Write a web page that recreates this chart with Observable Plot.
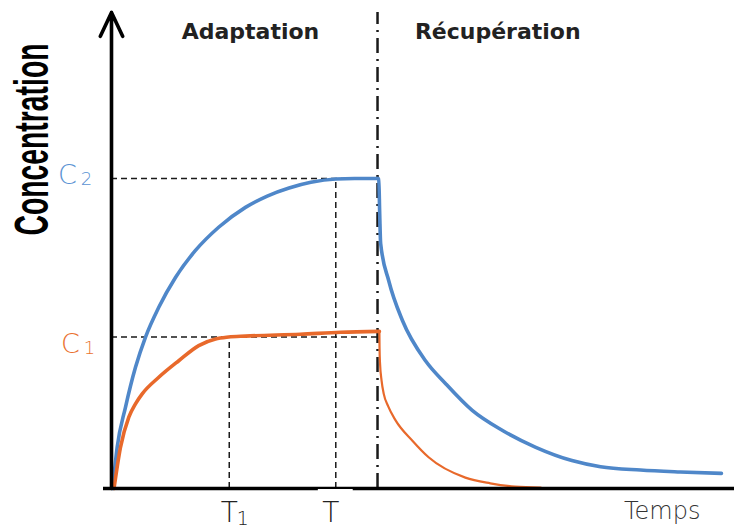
<!DOCTYPE html>
<html>
<head>
<meta charset="utf-8">
<script src="https://cdn.jsdelivr.net/npm/d3@7"></script>
<script src="https://cdn.jsdelivr.net/npm/@observablehq/plot@0.6"></script>
<style>
  html, body { margin: 0; padding: 0; background: #fff; }
  #chart svg { display: block; }
</style>
</head>
<body>
<div id="chart"></div>
<script>
// ---- Data (arbitrary units read from the schematic) ----
const blueAdaptT = [0.2, 0.91, 2.25, 3.85, 5.46, 7.59, 10.27, 13.48, 17.2, 21.5, 25.0, 28.5, 32.0, 36.0, 39.0, 42.7];
const blueAdaptC = [0, 8.7, 17.2, 25.6, 32.0, 38.3, 44.6, 50.3, 55.2, 59.4, 61.8, 63.5, 64.7, 65.4, 65.5, 65.5];
const blueRecovT = [42.7, 42.9, 43.05, 43.2, 44.5, 46.7, 50.4, 53.6, 57.9, 62.7, 68.1, 73.9, 78.5, 84.9, 91.3, 97.9];
const blueRecovC = [65.5, 65.4, 58.0, 51.8, 43.9, 35.5, 27.0, 22.2, 16.5, 12.3, 8.7, 5.9, 4.6, 3.9, 3.5, 3.2];
const orangeAdaptT = [0.4, 1.44, 2.78, 3.85, 4.93, 7.59, 10.8, 14.0, 16.7, 18.8, 21.5, 30.3, 36.8, 43.0];
const orangeAdaptC = [0, 8.7, 15.1, 17.9, 20.0, 23.5, 27.0, 30.2, 31.6, 32.0, 32.2, 32.6, 33.0, 33.2];
const orangeRecovT = [43.0, 43.02, 43.1, 43.35, 43.7, 44.4, 45.6, 48.3, 50.9, 56.8, 60.8, 64.8, 68.9];
const orangeRecovC = [33.2, 30.0, 26.5, 22.8, 20.0, 17.4, 14.4, 10.1, 6.6, 2.3, 1.1, 0.4, 0.2];

// Reference levels and times
const levelValues = [32.0, 65.5];          // C1, C2
const levelSubs = ["1", "2"];
const timeValues = [18.9, 36.0];           // T1, T
const timeSubs = ["1", ""];
const switchTime = 42.7;                   // end of adaptation
const axisTop = 100.6;
const phaseLabels = ["Adaptation", "Récupération"];
const phaseCenters = [22.3, 62.0];
const xLabel = "Temps";
const xLabelPos = 88.4;
const yLabel = "Concentration";

const BLUE = "#4f87c9";
const ORANGE = "#e8692b";
const BLUE_TXT = "#5b93d3";
const ORANGE_TXT = "#ea7230";
const INK = "#1a1a1a";

const zip = (ts, cs) => ts.map((t, i) => ({t, c: cs[i]}));
const blueA = zip(blueAdaptT, blueAdaptC);
const blueR = zip(blueRecovT, blueRecovC);
const orangeA = zip(orangeAdaptT, orangeAdaptC);
const orangeR = zip(orangeRecovT, orangeRecovC);

const thin = "'DejaVu Sans', sans-serif";
const levelColors = [ORANGE_TXT, BLUE_TXT];
// label offsets (C1 sits slightly below its line, C2 centred on it)
const levelStyle = [
  {cdx: -41, cdy: 7.5, sdx: -22, sdy: 11.5},
  {cdx: -44, cdy: -3, sdx: -25, sdy: 1}
];
const timeStyle = [{dx: 0}, {dx: -5}];

const levelMarks = levelValues.flatMap((v, i) => [
  Plot.text([v], {x: 0, y: d => d, text: () => "C", dx: levelStyle[i].cdx, dy: levelStyle[i].cdy, fill: levelColors[i], fontSize: 27, fontFamily: thin, fontWeight: 300, textAnchor: "middle"}),
  Plot.text([v], {x: 0, y: d => d, text: () => levelSubs[i], dx: levelStyle[i].sdx, dy: levelStyle[i].sdy, fill: levelColors[i], fontSize: 18, fontFamily: thin, fontWeight: 300, textAnchor: "middle"})
]);
const timeMarks = timeValues.flatMap((v, i) => [
  Plot.text([v], {x: d => d, y: 0, text: () => "T", dx: timeStyle[i].dx, dy: 25, fontSize: 28, fill: "#222", fontFamily: thin, fontWeight: 300, textAnchor: "middle"}),
  Plot.text([v], {x: d => d, y: 0, text: () => timeSubs[i], dx: timeStyle[i].dx + 13.5, dy: 30, fontSize: 19, fill: "#222", fontFamily: thin, fontWeight: 300, textAnchor: "middle"})
]);

const chart = Plot.plot({
  width: 734,
  height: 529,
  marginLeft: 111,
  marginRight: 0,
  marginTop: 10,
  marginBottom: 41,
  x: {domain: [0, 100], axis: null},
  y: {domain: [0, 101], axis: null},
  style: {background: "#fff", overflow: "visible"},
  marks: [
    // dashed guide lines
    Plot.ruleY(levelValues, {x1: 0, x2: switchTime, stroke: INK, strokeWidth: 1.5, strokeDasharray: "6,4"}),
    Plot.ruleX(timeValues, {x: d => d, y1: 0, y2: (d, i) => levelValues[i], stroke: INK, strokeWidth: 1.5, strokeDasharray: "6,4"}),
    // dash-dot separator
    Plot.ruleX([switchTime], {y1: 0, y2: axisTop, stroke: INK, strokeWidth: 2.5, strokeDasharray: "15,6,2,6"}),
    // curves
    Plot.line(blueA, {x: "t", y: "c", stroke: BLUE, strokeWidth: 3.6, curve: "monotone-x"}),
    Plot.line(blueR, {x: "t", y: "c", stroke: BLUE, strokeWidth: 3.6, curve: "monotone-x"}),
    Plot.line(orangeA, {x: "t", y: "c", stroke: ORANGE, strokeWidth: 3.6, curve: "monotone-x"}),
    Plot.line(orangeR, {x: "t", y: "c", stroke: ORANGE, strokeWidth: 2.2, curve: "monotone-x"}),
    // axes
    Plot.ruleY([0], {stroke: "#000", strokeWidth: 3.6, insetLeft: -8}),
    Plot.ruleY([0], {x1: timeValues[1] - 2.8, x2: timeValues[1] + 2.8, stroke: "#fff", strokeWidth: 2.4, dy: 1.6}),
    Plot.arrow([0], {x1: 0, x2: 0, y1: 0, y2: axisTop, stroke: "#000", strokeWidth: 3.6, headLength: 11, headAngle: 50}),
    // level labels C1, C2 and time labels T1, T
    ...levelMarks,
    ...timeMarks,
    // axis titles
    Plot.text([xLabel], {x: xLabelPos, y: 0, dy: 23, fontSize: 24, fill: "#333", fontFamily: thin, fontWeight: 300, textAnchor: "middle"}),
    Plot.text([yLabel], {frameAnchor: "top-left", dx: -98, dy: 129, rotate: -90, fontSize: 48, fontWeight: "bold", fill: "#000", fontFamily: "'Liberation Sans Narrow', 'Liberation Sans', sans-serif", textAnchor: "middle"}),
    // phase labels
    Plot.text(phaseLabels, {x: (d, i) => phaseCenters[i], frameAnchor: "top", dy: 13, fontSize: 22, fontWeight: "bold", fill: "#222", fontFamily: "'DejaVu Sans', sans-serif", textAnchor: "middle"})
  ]
});

document.getElementById("chart").appendChild(chart);

// compress the vertical title like the original condensed lettering
d3.select(chart).selectAll("text").filter(function() { return this.textContent === yLabel; })
  .attr("textLength", 192).attr("lengthAdjust", "spacingAndGlyphs");
</script>
</body>
</html>
